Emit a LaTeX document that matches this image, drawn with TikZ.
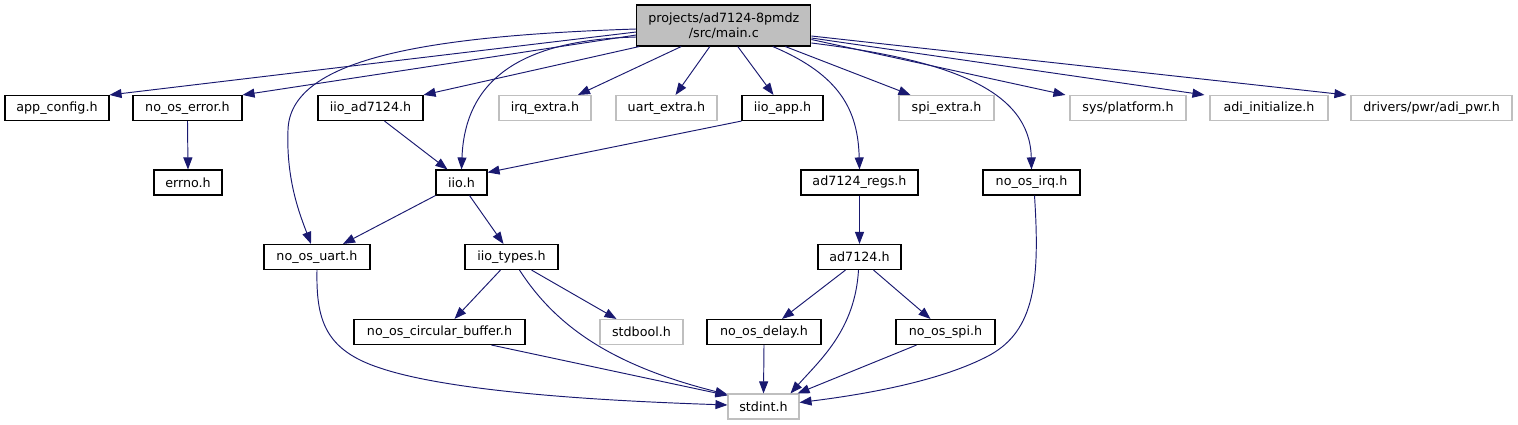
\documentclass[tikz,border=0pt]{standalone}
\usepackage{fontspec}
\setmainfont{DejaVu Sans}
\usetikzlibrary{arrows.meta,calc}
\definecolor{edgeblue}{HTML}{191970}
\definecolor{grey75}{HTML}{BFBFBF}
\begin{document}
\begin{tikzpicture}[x=1pt,y=-1pt,
  every node/.style={font=\fontsize{12.7}{15}\selectfont, inner sep=0pt, minimum height=25pt, align=center},
  docbox/.style={draw=black, line width=1.1pt, fill=white},
  extbox/.style={draw=grey75, line width=1.1pt, fill=white},
  mainbox/.style={draw=black, line width=1.1pt, fill=grey75, minimum height=41pt},
  edge/.style={draw=edgeblue, line width=0.95pt, -{Triangle[length=12pt,width=9pt]}}]
\useasboundingbox (0,0) rectangle (1518,425);
% nodes
\node[mainbox, minimum width=174pt] (main) at (723.8,25.5) {projects/ad7124-8pmdz\\/src/main.c};
\node[docbox, minimum width=104pt] (appcfg) at (57,108) {app\_config.h};
\node[docbox, minimum width=109pt] (noerr) at (187.5,108) {no\_os\_error.h};
\node[docbox, minimum width=105pt] (iioad) at (370.5,108) {iio\_ad7124.h};
\node[extbox, minimum width=92pt] (irqx) at (545,108) {irq\_extra.h};
\node[extbox, minimum width=101pt] (uartx) at (666.5,108) {uart\_extra.h};
\node[docbox, minimum width=81pt] (iioapp) at (782.5,108) {iio\_app.h};
\node[extbox, minimum width=95pt] (spix) at (946.5,108) {spi\_extra.h};
\node[extbox, minimum width=116pt] (sysplat) at (1128,108) {sys/platform.h};
\node[extbox, minimum width=118pt] (adiinit) at (1269,108) {adi\_initialize.h};
\node[extbox, minimum width=161pt] (adipwr) at (1431.5,108) {drivers/pwr/adi\_pwr.h};
\node[docbox, minimum width=68pt] (errno) at (188,182.5) {errno.h};
\node[docbox, minimum width=51pt] (iio) at (461.5,182.5) {iio.h};
\node[docbox, minimum width=117pt] (regs) at (859.5,182.5) {ad7124\_regs.h};
\node[docbox, minimum width=97pt] (irq) at (1031.5,182.5) {no\_os\_irq.h};
\node[docbox, minimum width=106pt] (uart) at (317,257) {no\_os\_uart.h};
\node[docbox, minimum width=93pt] (types) at (511.5,257) {iio\_types.h};
\node[docbox, minimum width=83pt] (ad) at (859.5,257) {ad7124.h};
\node[docbox, minimum width=171pt] (circ) at (439.5,332) {no\_os\_circular\_buffer.h};
\node[extbox, minimum width=83pt] (stdbool) at (641.5,332) {stdbool.h};
\node[docbox, minimum width=114pt] (delay) at (764,332) {no\_os\_delay.h};
\node[docbox, minimum width=99pt] (spi) at (945.5,332) {no\_os\_spi.h};
\node[extbox, minimum width=71pt] (stdint) at (763.5,406.5) {stdint.h};
% edges from main
\draw[edge] ($(main.west)+(0,6.5)$) -- (appcfg.north east);
\draw[edge] ($(main.west)+(0,9.5)$) -- (noerr.north east);
\draw[edge] ($(main.south west)+(3,0)$) -- (iioad.north east);
\draw[edge] ($(main.west)+(0,11.5)$) .. controls (520,40) and (465,80) .. (iio.north);
\draw[edge] ($(main.west)+(0,3.5)$) .. controls (420,36) and (290,60) .. (288,130) .. controls (286,180) and (300,215) .. ($(uart.north)+(-6,0)$);
\draw[edge] ($(main.south west)+(45,0)$) -- ($(irqx.north)+(33,0)$);
\draw[edge] ($(main.south)+(-14,0)$) -- ($(uartx.north)+(9,0)$);
\draw[edge] ($(main.south)+(14,0)$) -- ($(iioapp.north)+(-9,0)$);
\draw[edge] ($(main.south)+(49,0)$) .. controls (840,75) and (858,110) .. (regs.north);
\draw[edge] ($(main.south east)+(-26,0)$) -- ($(spix.north)+(-36,0)$);
\draw[edge] ($(main.east)+(0,14)$) -- ($(sysplat.north west)+(-4,0)$);
\draw[edge] ($(main.east)+(0,12.5)$) -- ($(adiinit.north west)+(-5,0)$);
\draw[edge] ($(main.east)+(0,10.5)$) -- ($(adipwr.north west)+(-4,0)$);
\draw[edge] ($(main.east)+(0,17.5)$) .. controls (950,60) and (1030,90) .. (irq.north);
% other edges
\draw[edge] (noerr.south) -- (errno.north);
\draw[edge] ($(iioad.south)+(14,0)$) -- ($(iio.north)+(-14,0)$);
\draw[edge] (iioapp.south west) -- ($(iio.north east)+(0,3)$);
\draw[edge] (iio.south west) -- ($(uart.north)+(26,0)$);
\draw[edge] ($(iio.south)+(8,0)$) -- ($(types.north)+(-8,0)$);
\draw[edge] (uart.south) .. controls (316,320) and (325,350) .. (380,368) .. controls (460,395) and (640,402) .. ($(stdint.west)+(0,-1.5)$);
\draw[edge] ($(types.south)+(-11,0)$) -- ($(circ.north)+(15,0)$);
\draw[edge] ($(types.south)+(20,0)$) -- ($(stdbool.north)+(-25,0)$);
\draw[edge] ($(types.south)+(8,0)$) .. controls (555,325) and (610,365) .. ($(stdint.north west)+(0,1)$);
\draw[edge] ($(circ.south)+(52,0)$) -- ($(stdint.north west)+(0,2)$);
\draw[edge] (regs.south) -- (ad.north);
\draw[edge] ($(ad.south)+(-14,0)$) -- ($(delay.north)+(18,0)$);
\draw[edge] ($(ad.south)+(14,0)$) -- ($(spi.north)+(-15,0)$);
\draw[edge] ($(ad.south)+(-1,0)$) .. controls (855,330) and (820,360) .. ($(stdint.north)+(27,0)$);
\draw[edge] (delay.south) -- (stdint.north);
\draw[edge] ($(spi.south)+(-29,0)$) -- ($(stdint.north east)+(-2,0)$);
\draw[edge] ($(irq.south)+(3,0)$) .. controls (1040,280) and (1035,330) .. (990,355) .. controls (940,382) and (860,395) .. ($(stdint.east)+(0,-4)$);
\end{tikzpicture}
\end{document}
